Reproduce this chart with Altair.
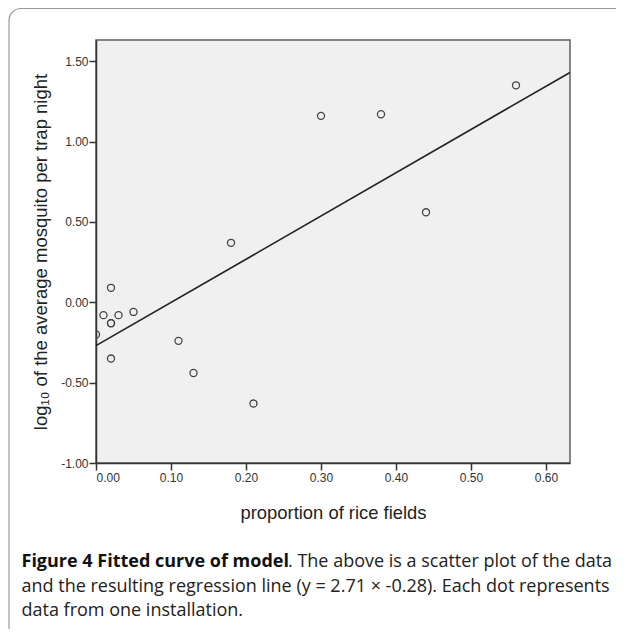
import altair as alt
import pandas as pd

# data
rice = [0.56, 0.30, 0.38, 0.44, 0.18, 0.02, 0.01, 0.02, 0.02, 0.03, 0.05, 0.00, 0.02, 0.11, 0.13, 0.21]
logm = [1.35, 1.16, 1.17, 0.56, 0.37, 0.09, -0.08, -0.13, -0.13, -0.08, -0.06, -0.20, -0.35, -0.24, -0.44, -0.63]
fit_x = [0.0, 0.632]
fit_y = [-0.27, 1.43]
x_ticks = [0.0, 0.1, 0.2, 0.3, 0.4, 0.5, 0.6]
y_ticks = [-1.0, -0.5, 0.0, 0.5, 1.0, 1.5]

caption_bold = "Figure 4 Fitted curve of model"
caption_rest1 = ". The above is a scatter plot of the data"
caption_line2 = "and the resulting regression line (y = 2.71 \u00d7 -0.28). Each dot represents"
caption_line3 = "data from one installation."

pts = pd.DataFrame({"x": rice, "y": logm})
fit = pd.DataFrame({"x": fit_x, "y": fit_y})
one = pd.DataFrame({"a": [0]})

W, H = 474, 423
xs = alt.Scale(domain=[0, 0.632], nice=False, zero=False)
ys = alt.Scale(domain=[-1.0, 1.632], nice=False, zero=False)

lab = "replace(format(datum.value, '.2f'), '\u2212', '-')"
xax = alt.Axis(values=x_ticks, labelExpr=lab, title="proportion of rice fields",
               tickSize=7, labelPadding=2, titlePadding=20, titleFontSize=18.4, grid=False)
yax = alt.Axis(values=y_ticks, labelExpr=lab,
               title="log\u2081\u2080 of the average mosquito per trap night",
               tickSize=7, labelPadding=1, titlePadding=10, titleFontSize=18.5, grid=False)

points = alt.Chart(pts).mark_point(shape="circle", filled=False, size=50, stroke="#444444",
                                   strokeWidth=1.3, opacity=1, clip=True).encode(
    x=alt.X("x:Q", scale=xs, axis=xax),
    y=alt.Y("y:Q", scale=ys, axis=yax),
)

line = alt.Chart(fit).mark_line(color="#222222", strokeWidth=1.6, clip=True).encode(
    x=alt.X("x:Q", scale=xs),
    y=alt.Y("y:Q", scale=ys),
)

box = alt.Chart(one).mark_rect(fill="white", fillOpacity=0, stroke="#9a9a9a", strokeWidth=1.2,
                               cornerRadius=12).encode(
    x=alt.value(-87), x2=alt.value(560), y=alt.value(-31.5), y2=alt.value(640)
)

cap_font = "Open Sans"
cap_size = 18
t1 = alt.Chart(one).mark_text(text=caption_bold, font=cap_font, fontSize=cap_size, fontWeight="bold",
                              align="left", baseline="alphabetic", color="#111111").encode(
    x=alt.value(-74.5), y=alt.value(527))
t1b = alt.Chart(one).mark_text(text=caption_rest1, font=cap_font, fontSize=cap_size,
                               align="left", baseline="alphabetic", color="#222222").encode(
    x=alt.value(192), y=alt.value(527))
t2 = alt.Chart(one).mark_text(text=caption_line2, font=cap_font, fontSize=cap_size,
                              align="left", baseline="alphabetic", color="#222222").encode(
    x=alt.value(-74.5), y=alt.value(551.5))
t3 = alt.Chart(one).mark_text(text=caption_line3, font=cap_font, fontSize=cap_size,
                              align="left", baseline="alphabetic", color="#222222").encode(
    x=alt.value(-74.5), y=alt.value(576))

chart = alt.layer(box, line, points, t1, t1b, t2, t3).properties(
    width=W, height=H,
    padding={"left": 88, "top": 32, "right": 46, "bottom": 166},
    autosize=alt.AutoSizeParams(type="none"),
).configure_view(
    fill="#f0f0f0", stroke="#606060", strokeWidth=1.5
).configure_axis(
    domainColor="#333333", domainWidth=1.5, tickColor="#333333", tickWidth=1.5,
    labelFont="Liberation Sans", labelFontSize=12, labelColor="#333333",
    titleFont="Liberation Sans", titleFontWeight="normal", titleColor="#222222",
)

chart.save("out.html", embed_options={"renderer": "svg", "actions": False})
